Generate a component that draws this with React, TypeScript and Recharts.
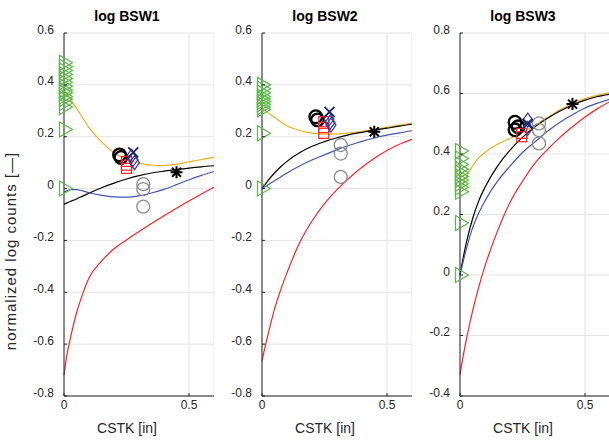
import React from "react"
import { ComposedChart, Line, Scatter, XAxis, YAxis, CartesianGrid } from "recharts"

const FONT = '"Liberation Sans", Arial, Helvetica, sans-serif'
const AXIS = "#262626"
const GRID = "#e4e4e4"
const ORANGE = "#EDB120"
const BLUE_LINE = "#4255b5"
const RED = "#ff2222"
const GREEN = "#5cb848"
const MARK_BLUE = "#2f3f9f"
const GREY = "#8a8a8a"

// x positions of the fitted curves (CSTK [in])
const X_FIT = [0, 0.01, 0.025, 0.05, 0.075, 0.1, 0.15, 0.2, 0.25, 0.3, 0.35, 0.4, 0.45, 0.5, 0.55, 0.6]

// log BSW1
const P1_ORANGE = [0.38, 0.366, 0.345, 0.31, 0.272, 0.236, 0.18, 0.138, 0.113, 0.098, 0.09, 0.089, 0.094, 0.103, 0.112, 0.12]
const P1_BLACK = [-0.06, -0.056, -0.05, -0.04, -0.029, -0.018, 0.003, 0.021, 0.037, 0.05, 0.06, 0.067, 0.073, 0.079, 0.084, 0.088]
const P1_BLUE = [-0.013, -0.009, -0.004, -0.004, -0.009, -0.016, -0.026, -0.032, -0.033, -0.028, -0.017, -0.003, 0.015, 0.034, 0.051, 0.066]
const P1_RED = [-0.72, -0.65, -0.58, -0.48, -0.405, -0.345, -0.28, -0.232, -0.198, -0.166, -0.135, -0.105, -0.076, -0.048, -0.021, 0.005]
const P1_TRI = [0.485, 0.47, 0.455, 0.44, 0.425, 0.41, 0.395, 0.38, 0.37, 0.355, 0.345, 0.33, 0.315, 0.228, 0]
const P1_CIRCLE = [[0.222, 0.13], [0.228, 0.12]]
const P1_CROSS = [[0.277, 0.14]]
const P1_DIAMOND = [[0.27, 0.125], [0.276, 0.112], [0.282, 0.1]]
const P1_SQUARE = [[0.25, 0.105], [0.25, 0.09], [0.25, 0.078]]
const P1_GREY = [[0.317, 0.017], [0.317, -0.002], [0.317, -0.07]]
const P1_STAR = [[0.45, 0.063]]

// log BSW2
const P2_ORANGE = [0.31, 0.303, 0.292, 0.275, 0.257, 0.242, 0.224, 0.214, 0.21, 0.211, 0.215, 0.221, 0.228, 0.236, 0.245, 0.253]
const P2_BLACK = [0, 0.013, 0.032, 0.06, 0.084, 0.105, 0.138, 0.163, 0.181, 0.196, 0.208, 0.217, 0.225, 0.233, 0.241, 0.248]
const P2_BLUE = [0, 0.006, 0.015, 0.03, 0.045, 0.06, 0.087, 0.11, 0.13, 0.15, 0.167, 0.182, 0.195, 0.206, 0.215, 0.223]
const P2_RED = [-0.665, -0.62, -0.56, -0.465, -0.39, -0.325, -0.21, -0.125, -0.058, -0.004, 0.042, 0.082, 0.117, 0.147, 0.171, 0.19]
const P2_TRI = [0.4, 0.385, 0.37, 0.355, 0.345, 0.335, 0.325, 0.315, 0.305, 0.213, 0]
const P2_CIRCLE = [[0.215, 0.277], [0.222, 0.265]]
const P2_CROSS = [[0.27, 0.296]]
const P2_DIAMOND = [[0.268, 0.268], [0.272, 0.255], [0.276, 0.245]]
const P2_SQUARE = [[0.247, 0.258], [0.247, 0.235], [0.247, 0.213]]
const P2_GREY = [[0.315, 0.168], [0.315, 0.135], [0.315, 0.045]]
const P2_STAR = [[0.449, 0.219]]

// log BSW3
const P3_ORANGE = [0.28, 0.3, 0.325, 0.36, 0.387, 0.405, 0.432, 0.452, 0.472, 0.495, 0.521, 0.546, 0.567, 0.583, 0.594, 0.603]
const P3_BLACK = [0, 0.045, 0.105, 0.185, 0.245, 0.29, 0.36, 0.413, 0.455, 0.49, 0.518, 0.542, 0.562, 0.578, 0.59, 0.598]
const P3_BLUE = [0, 0.035, 0.085, 0.155, 0.205, 0.245, 0.31, 0.36, 0.405, 0.44, 0.475, 0.505, 0.53, 0.552, 0.568, 0.582]
const P3_RED = [-0.33, -0.28, -0.215, -0.12, -0.04, 0.03, 0.145, 0.24, 0.31, 0.37, 0.415, 0.455, 0.49, 0.522, 0.55, 0.573]
const P3_TRI = [0.41, 0.385, 0.365, 0.35, 0.338, 0.326, 0.314, 0.302, 0.29, 0.275, 0.172, 0]
const P3_CIRCLE = [[0.22, 0.505], [0.22, 0.48], [0.232, 0.49]]
const P3_CROSS = [[0.27, 0.5]]
const P3_DIAMOND = [[0.271, 0.512], [0.271, 0.485]]
const P3_SQUARE = [[0.247, 0.468], [0.247, 0.457]]
const P3_GREY = [[0.316, 0.501], [0.316, 0.479], [0.316, 0.435]]
const P3_STAR = [[0.45, 0.565]]

const X_TICKS = [0, 0.5]
const Y_TICKS_12 = [-0.8, -0.6, -0.4, -0.2, 0, 0.2, 0.4, 0.6]
const Y_TICKS_3 = [-0.4, -0.2, 0, 0.2, 0.4, 0.6, 0.8]

const fit = (ys: number[]) => X_FIT.map((x, i) => ({ x, y: ys[i] }))
const pts = (p: number[][]) => p.map(([x, y]) => ({ x, y }))
const tri = (ys: number[]) => ys.map((y) => ({ x: 0, y }))

function YTick(props: any) {
  const { x, y, payload } = props
  return (
    <g>
      <line x1={x + 10} x2={x + 13} y1={y} y2={y} stroke={AXIS} />
      <text x={x} y={y - 3.5} textAnchor="end" dominantBaseline="central" fontSize={12} fill={AXIS} fontFamily={FONT}>
        {String(payload.value)}
      </text>
    </g>
  )
}

function XTick(props: any) {
  const { x, y, payload } = props
  return (
    <g>
      <line x1={x} x2={x} y1={y - 10} y2={y - 13} stroke={AXIS} />
      <text x={x} y={y - 1} textAnchor="middle" dominantBaseline="central" fontSize={12} fill={AXIS} fontFamily={FONT}>
        {String(payload.value)}
      </text>
    </g>
  )
}

const Tri = ({ cx, cy }: any) => (
  <path d={`M${cx - 4.5},${cy - 7.5} L${cx + 8.5},${cy} L${cx - 4.5},${cy + 7.5} Z`} fill="none" stroke={GREEN} strokeWidth={1.2} />
)
const Ring = ({ cx, cy }: any) => <circle cx={cx} cy={cy} r={6.3} fill="none" stroke="#000" strokeWidth={2.3} />
const GreyRing = ({ cx, cy }: any) => <circle cx={cx} cy={cy} r={6.5} fill="none" stroke={GREY} strokeWidth={1.3} />
const Square = ({ cx, cy }: any) => (
  <rect x={cx - 5} y={cy - 5} width={10} height={10} fill="none" stroke={RED} strokeWidth={1.2} />
)
const Diamond = ({ cx, cy }: any) => (
  <path d={`M${cx},${cy - 7} L${cx + 5},${cy} L${cx},${cy + 7} L${cx - 5},${cy} Z`} fill="none" stroke={MARK_BLUE} strokeWidth={1.2} />
)
const Cross = ({ cx, cy }: any) => (
  <path d={`M${cx - 5},${cy - 5} L${cx + 5},${cy + 5} M${cx - 5},${cy + 5} L${cx + 5},${cy - 5}`} stroke="#1c2670" strokeWidth={1.8} />
)
const Star = ({ cx, cy }: any) => (
  <path
    d={`M${cx - 6},${cy} L${cx + 6},${cy} M${cx},${cy - 6} L${cx},${cy + 6} M${cx - 4.5},${cy - 4.5} L${cx + 4.5},${cy + 4.5} M${cx - 4.5},${cy + 4.5} L${cx + 4.5},${cy - 4.5}`}
    stroke="#000"
    strokeWidth={2}
  />
)

interface PanelProps {
  left: number
  yDomain: [number, number]
  yTicks: number[]
  orange: number[]
  black: number[]
  blue: number[]
  red: number[]
  triangles: number[]
  circles: number[][]
  crosses: number[][]
  diamonds: number[][]
  squares: number[][]
  greys: number[][]
  stars: number[][]
}

function Panel(p: PanelProps) {
  return (
    <div style={{ position: "absolute", left: p.left, top: 0 }}>
      <ComposedChart width={214} height={440} margin={{ top: 33, right: 0, bottom: 0, left: 0 }}>
        <CartesianGrid stroke={GRID} />
        <XAxis
          type="number"
          dataKey="x"
          domain={[0, 0.6]}
          ticks={X_TICKS}
          height={44}
          tickSize={8}
          tickMargin={2}
          tickLine={false}
          axisLine={{ stroke: AXIS }}
          tick={<XTick />}
        />
        <YAxis
          type="number"
          dataKey="y"
          domain={p.yDomain}
          ticks={p.yTicks}
          width={64}
          tickSize={8}
          tickMargin={2}
          tickLine={false}
          axisLine={{ stroke: AXIS }}
          tick={<YTick />}
        />
        <Scatter data={tri(p.triangles)} shape={<Tri />} isAnimationActive={false} />
        <Line data={fit(p.orange)} dataKey="y" type="monotone" stroke={ORANGE} strokeWidth={1.2} dot={false} isAnimationActive={false} />
        <Line data={fit(p.black)} dataKey="y" type="monotone" stroke="#000" strokeWidth={1.2} dot={false} isAnimationActive={false} />
        <Line data={fit(p.blue)} dataKey="y" type="monotone" stroke={BLUE_LINE} strokeWidth={1.2} dot={false} isAnimationActive={false} />
        <Line data={fit(p.red)} dataKey="y" type="monotone" stroke={RED} strokeWidth={1.2} dot={false} isAnimationActive={false} />
        <Scatter data={pts(p.greys)} shape={<GreyRing />} isAnimationActive={false} />
        <Scatter data={pts(p.circles)} shape={<Ring />} isAnimationActive={false} />
        <Scatter data={pts(p.squares)} shape={<Square />} isAnimationActive={false} />
        <Scatter data={pts(p.diamonds)} shape={<Diamond />} isAnimationActive={false} />
        <Scatter data={pts(p.crosses)} shape={<Cross />} isAnimationActive={false} />
        <Scatter data={pts(p.stars)} shape={<Star />} isAnimationActive={false} />
      </ComposedChart>
    </div>
  )
}

const TITLES = ["log BSW1", "log BSW2", "log BSW3"]
const TITLE_X = [127, 325, 523]

export default function App() {
  return (
    <div style={{ position: "absolute", left: 0, top: 0, width: 609, height: 440, overflow: "hidden", background: "#fff" }}>
      <Panel left={0} yDomain={[-0.8, 0.6]} yTicks={Y_TICKS_12} orange={P1_ORANGE} black={P1_BLACK} blue={P1_BLUE} red={P1_RED}
        triangles={P1_TRI} circles={P1_CIRCLE} crosses={P1_CROSS} diamonds={P1_DIAMOND} squares={P1_SQUARE} greys={P1_GREY} stars={P1_STAR} />
      <Panel left={198} yDomain={[-0.8, 0.6]} yTicks={Y_TICKS_12} orange={P2_ORANGE} black={P2_BLACK} blue={P2_BLUE} red={P2_RED}
        triangles={P2_TRI} circles={P2_CIRCLE} crosses={P2_CROSS} diamonds={P2_DIAMOND} squares={P2_SQUARE} greys={P2_GREY} stars={P2_STAR} />
      <Panel left={396} yDomain={[-0.4, 0.8]} yTicks={Y_TICKS_3} orange={P3_ORANGE} black={P3_BLACK} blue={P3_BLUE} red={P3_RED}
        triangles={P3_TRI} circles={P3_CIRCLE} crosses={P3_CROSS} diamonds={P3_DIAMOND} squares={P3_SQUARE} greys={P3_GREY} stars={P3_STAR} />
      <svg width={609} height={440} style={{ position: "absolute", left: 0, top: 0, pointerEvents: "none" }}>
        {TITLES.map((t, i) => (
          <text key={t} x={TITLE_X[i]} y={20.5} textAnchor="middle" fontSize={14} fontWeight="bold" fill="#000" fontFamily={FONT}>
            {t}
          </text>
        ))}
        {TITLE_X.map((x) => (
          <text key={x} x={x} y={433} textAnchor="middle" fontSize={14} fill={AXIS} fontFamily={FONT}>
            CSTK [in]
          </text>
        ))}
        <text transform="translate(16,251) rotate(-90)" textAnchor="middle" fontSize={15} letterSpacing={1} fill={AXIS} fontFamily={FONT}>
          normalized log counts [—]
        </text>
      </svg>
    </div>
  )
}
